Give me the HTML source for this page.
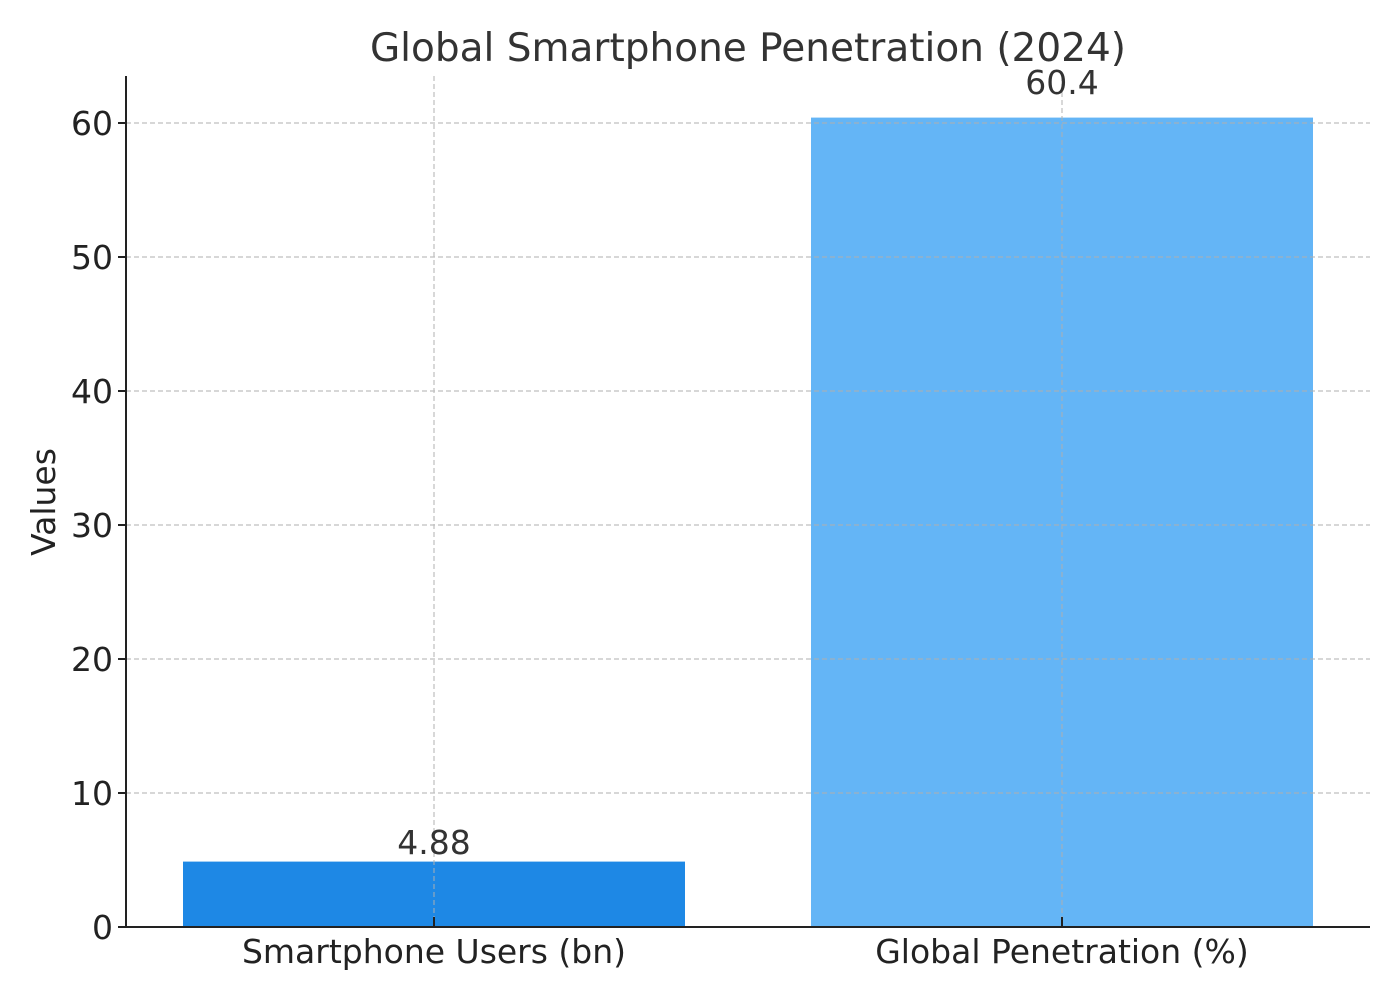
<!DOCTYPE html>
<html><head><meta charset="utf-8"><style>
html,body{margin:0;padding:0;background:#fff;}
svg{display:block;font-family:"DejaVu Sans","Liberation Sans",sans-serif;}
</style></head><body>
<svg width="1400" height="1000" viewBox="0 0 1400 1000">
<rect width="1400" height="1000" fill="#fff"/>
<rect x="183" y="861.6" width="502" height="65.4" fill="#1E88E5"/>
<rect x="811" y="117.6" width="502" height="809.4" fill="#64B5F6"/>
<g stroke="#b0b0b0" stroke-width="1.2" stroke-dasharray="5,3" opacity="0.8">
<line x1="126" x2="1370" y1="793" y2="793"/>
<line x1="126" x2="1370" y1="659" y2="659"/>
<line x1="126" x2="1370" y1="525" y2="525"/>
<line x1="126" x2="1370" y1="391" y2="391"/>
<line x1="126" x2="1370" y1="257" y2="257"/>
<line x1="126" x2="1370" y1="123" y2="123"/>
<line x1="434" x2="434" y1="76" y2="927"/>
<line x1="1062" x2="1062" y1="76" y2="927"/>
</g>
<g stroke="#222" stroke-width="2">
<line x1="126" y1="76" x2="126" y2="928"/>
<line x1="125" y1="927" x2="1370" y2="927"/>
<line x1="118" x2="126" y1="927" y2="927"/><line x1="118" x2="126" y1="793" y2="793"/>
<line x1="118" x2="126" y1="659" y2="659"/><line x1="118" x2="126" y1="525" y2="525"/>
<line x1="118" x2="126" y1="391" y2="391"/><line x1="118" x2="126" y1="257" y2="257"/>
<line x1="118" x2="126" y1="123" y2="123"/>
<line x1="434" x2="434" y1="917" y2="927"/><line x1="1062" x2="1062" y1="917" y2="927"/>
</g>
<g font-size="33" fill="#222" text-anchor="end">
<text x="113" y="939">0</text><text x="113" y="805">10</text><text x="113" y="671">20</text>
<text x="113" y="537">30</text><text x="113" y="403">40</text><text x="113" y="269">50</text>
<text x="113" y="135">60</text>
</g>
<g font-size="33" fill="#222" text-anchor="middle">
<text x="434" y="963">Smartphone Users (bn)</text>
<text x="1062" y="963">Global Penetration (%)</text>
</g>
<text transform="translate(55,502) rotate(-90)" font-size="33" fill="#222" text-anchor="middle">Values</text>
<text x="748" y="61" font-size="39" fill="#333" text-anchor="middle">Global Smartphone Penetration (2024)</text>
<text x="434" y="854" font-size="33" fill="#333" text-anchor="middle">4.88</text>
<text x="1062" y="94" font-size="33" fill="#333" text-anchor="middle">60.4</text>
</svg>
</body></html>
